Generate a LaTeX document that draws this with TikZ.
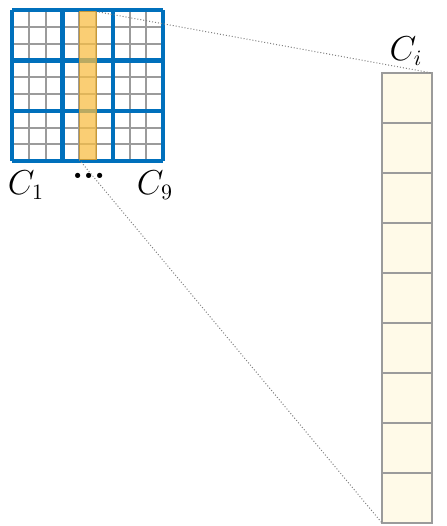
\documentclass[tikz,border=0pt]{standalone}
\usepackage{amsmath,amssymb}
\usepackage{tikz}
\usetikzlibrary{calc,positioning,arrows.meta}

\definecolor{gridblue}{RGB}{0,112,188}
\definecolor{cellgray}{RGB}{155,155,155}
\definecolor{hlorange}{RGB}{248,190,70}
\definecolor{cream}{RGB}{255,250,232}

\begin{document}
\begin{tikzpicture}[x=0.5pt,y=-0.5pt,>=Latex,
    fine/.style={cellgray,line width=1pt},
    block/.style={gridblue,line width=2.2pt},
    lbl/.style={font=\fontsize{16}{19}\selectfont},
    zoomline/.style={densely dotted,gray,line width=0.5pt}]
  \useasboundingbox (0,0) rectangle (446,526);
  \def\ox{12}\def\oy{10}\def\s{16.8}
  % fine grid
  \foreach \i in {0,...,9}{
    \draw[fine] (\ox+\i*\s,\oy) -- (\ox+\i*\s,\oy+9*\s);
    \draw[fine] (\ox,\oy+\i*\s) -- (\ox+9*\s,\oy+\i*\s);
  }
  % 3x3 blocks
  \foreach \i in {0,3,6,9}{
    \draw[block] (\ox+\i*\s,\oy) -- (\ox+\i*\s,\oy+9*\s);
    \draw[block] (\ox,\oy+\i*\s) -- (\ox+9*\s,\oy+\i*\s);
  }
  % highlighted column
  \coordinate (HT) at (\ox+5*\s,\oy+1.5);
  \coordinate (HB) at (\ox+4*\s,\oy+9*\s-1.5);
  \draw[hlorange!80!black,line width=0.4pt,fill=hlorange,fill opacity=0.75] (HB) rectangle (HT);
  % the column C_i
  \coordinate (CT) at (432,73);
  \coordinate (CB) at (382,523);
  \foreach \k in {0,...,8}{
    \draw[cellgray,line width=1.4pt,fill=cream] (382,73+\k*50) rectangle (432,123+\k*50);
  }
  \draw[zoomline] (HT) -- (CT);
  \draw[zoomline] (HB) -- (CB);
  \node[lbl] (c1) at (26,185) {$C_1$};
  \node[font=\fontsize{18}{20}\selectfont] (cdots) at (89,176) {\textbf{...}};
  \node[lbl] (c9) at (155,185) {$C_9$};
  \node[lbl] (ci) at (406,51) {$C_i$};
\end{tikzpicture}
\end{document}
